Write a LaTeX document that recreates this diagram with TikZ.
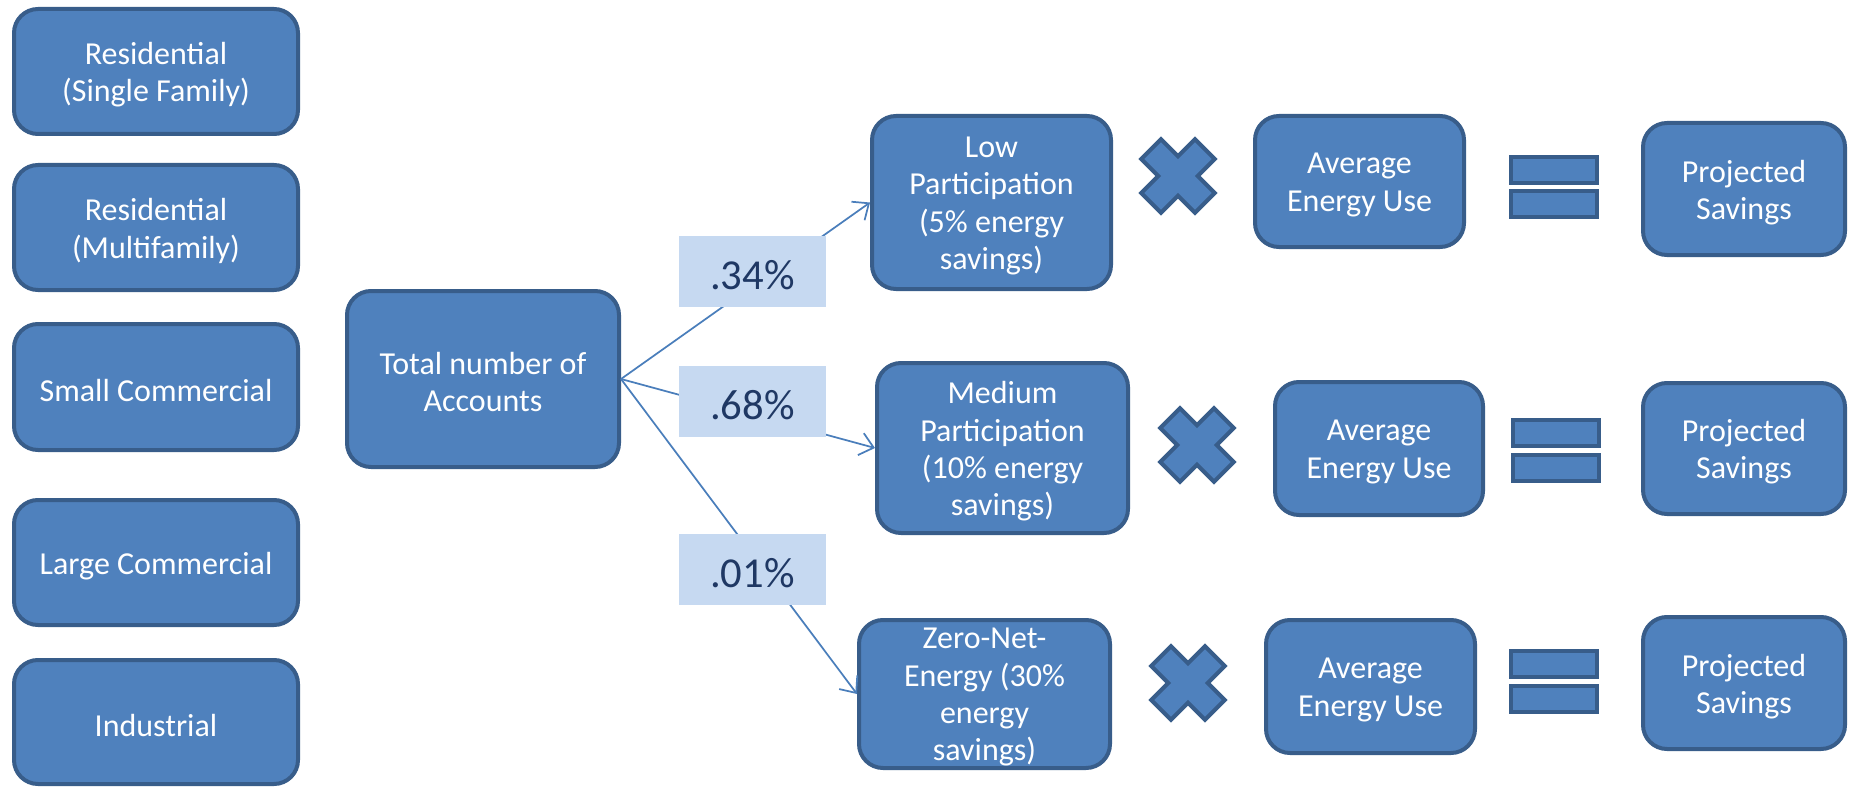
\documentclass[tikz,border=0pt]{standalone}
\usepackage{fontspec}
\setmainfont{Carlito}
\usetikzlibrary{fit,arrows.meta}
\definecolor{boxfill}{HTML}{4F81BD}
\definecolor{boxline}{HTML}{385D8A}
\definecolor{pctfill}{HTML}{C6D9F1}
\definecolor{pcttext}{HTML}{1F3864}
\definecolor{connline}{HTML}{4A7EBB}
\tikzset{
  box/.style={draw=boxline, fill=boxfill, line width=3pt, rounded corners=18pt,
    inner sep=0pt},
  boxtext/.style={align=center, text=white, inner sep=0pt, yshift=-2.5pt,
    font=\fontsize{24}{28}\selectfont},
  pct/.style={fill=pctfill, inner sep=0pt},
  pcttxt/.style={text=pcttext, inner sep=0pt, yshift=-3pt,
    font=\fontsize{32}{36}\selectfont},
  conn/.style={draw=connline, line width=1.3pt,
    -{Straight Barb[length=10pt,width=17pt,line width=1.3pt]}},
  opshape/.style={draw=boxline, fill=boxfill, line width=3pt, line join=miter},
}
\newcommand{\xmark}[2]{%
  \draw[opshape, shift={(#1,#2)}, rotate=45]
    (-14,-38) -- (14,-38) -- (14,-14) -- (38,-14) -- (38,14) -- (14,14) --
    (14,38) -- (-14,38) -- (-14,14) -- (-38,14) -- (-38,-14) -- (-14,-14) -- cycle;}
\newcommand{\eqmark}[3]{%
  \draw[opshape] (#1,#2) rectangle ++(86,26);
  \draw[opshape] (#1,#3) rectangle ++(86,26);}
\begin{document}
\begin{tikzpicture}[x=0.75pt,y=-0.75pt]
\useasboundingbox (0,0) rectangle (1849,788);
% left column
\node[box, fit={(14,9) (298,134)}] (res1) {};
\node[boxtext] (res1t) at (res1.center) {Residential\\(Single Family)};
\node[box, fit={(14,165) (298,290)}] (res2) {};
\node[boxtext] (res2t) at (res2.center) {Residential\\(Multifamily)};
\node[box, fit={(14,324) (298,450)}] (smc) {};
\node[boxtext] (smct) at (smc.center) {Small Commercial};
\node[box, fit={(14,500) (298,625)}] (lgc) {};
\node[boxtext] (lgct) at (lgc.center) {Large Commercial};
\node[box, fit={(14,660) (298,784)}] (ind) {};
\node[boxtext] (indt) at (ind.center) {Industrial};
% total
\node[box, fit={(347,291) (619,467)}] (tot) {};
\node[boxtext] (tott) at (tot.center) {Total number of\\Accounts};
% participation
\node[box, fit={(872,116) (1111,289)}] (low) {};
\node[boxtext] (lowt) at (low.center) {Low\\Participation\\(5\% energy\\savings)};
\node[box, fit={(877,363) (1128,533)}] (med) {};
\node[boxtext] (medt) at (med.center) {Medium\\Participation\\(10\% energy\\savings)};
\node[box, fit={(859,620) (1110,768)}] (zne) {};
\node[boxtext] (znet) at (zne.center) {Zero-Net-\\Energy (30\%\\energy\\savings)};
% average energy use
\node[box, fit={(1255,116) (1464,247)}] (avg1) {};
\node[boxtext] (avg1t) at (avg1.center) {Average\\Energy Use};
\node[box, fit={(1275,382) (1483,515)}] (avg2) {};
\node[boxtext] (avg2t) at (avg2.center) {Average\\Energy Use};
\node[box, fit={(1266,620) (1475,753)}] (avg3) {};
\node[boxtext] (avg3t) at (avg3.center) {Average\\Energy Use};
% projected savings
\node[box, fit={(1643,123) (1845,255)}] (proj1) {};
\node[boxtext] (proj1t) at (proj1.center) {Projected\\Savings};
\node[box, fit={(1643,383) (1845,514)}] (proj2) {};
\node[boxtext] (proj2t) at (proj2.center) {Projected\\Savings};
\node[box, fit={(1643,617) (1845,749)}] (proj3) {};
\node[boxtext] (proj3t) at (proj3.center) {Projected\\Savings};
% connectors
\draw[conn] (tot.east) -- (low.west);
\draw[conn] (tot.east) -- (med.west);
\draw[conn] (tot.east) -- (zne.west);
% percentages
\node[pct, fit={(679,236) (826,307)}] (p1) {};
\node[pcttxt] (p1t) at (p1.center) {.34\%};
\node[pct, fit={(679,366) (826,437)}] (p2) {};
\node[pcttxt] (p2t) at (p2.center) {.68\%};
\node[pct, fit={(679,534) (826,605)}] (p3) {};
\node[pcttxt] (p3t) at (p3.center) {.01\%};
% operators
\xmark{1178}{176}
\xmark{1197}{445}
\xmark{1188}{683}
\eqmark{1511}{157}{191}
\eqmark{1513}{420}{455}
\eqmark{1511}{651}{686}
\end{tikzpicture}
\end{document}
